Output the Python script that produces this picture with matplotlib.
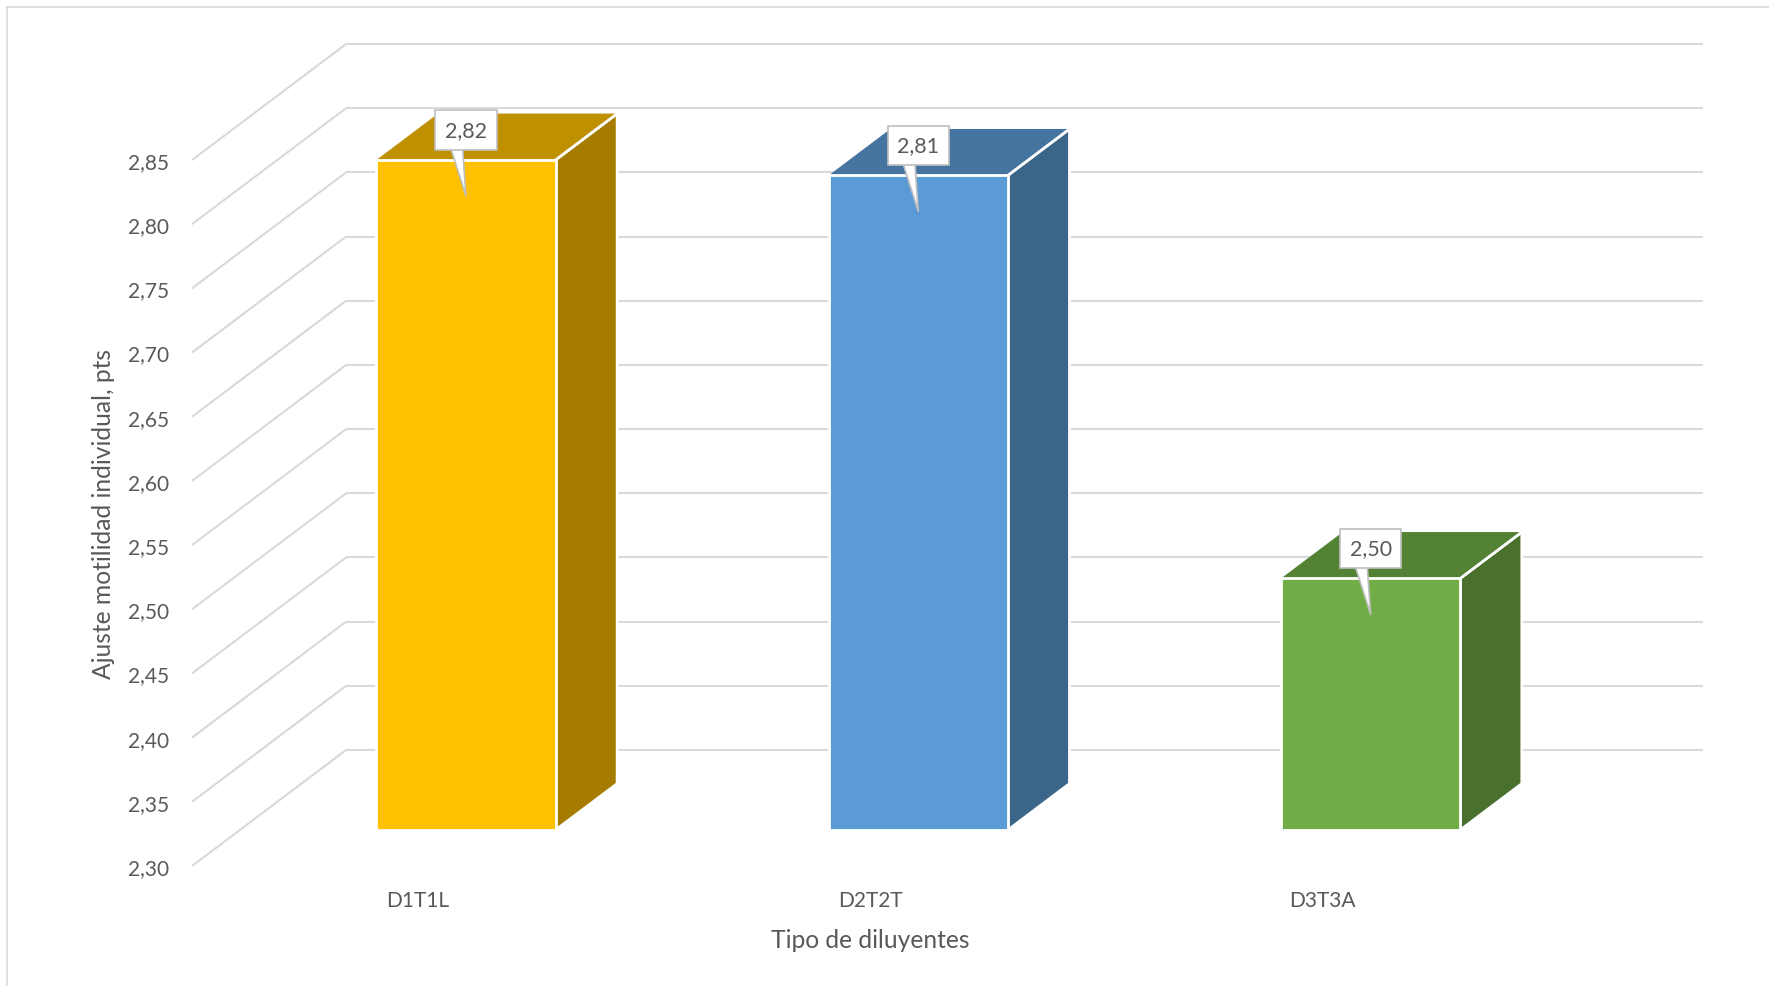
import numpy as np
import matplotlib
matplotlib.use("Agg")
import matplotlib.pyplot as plt
from matplotlib.patches import Polygon, Rectangle
from matplotlib.lines import Line2D

# ---- data ----
categories = ["D1T1L", "D2T2T", "D3T3A"]
values = [2.822, 2.810, 2.496]
y_ticks = [2.30, 2.35, 2.40, 2.45, 2.50, 2.55, 2.60, 2.65, 2.70, 2.75, 2.80, 2.85]
x_title = "Tipo de diluyentes"
y_title = "Ajuste motilidad individual, pts"

front_colors = ["#FFC000", "#5B9BD5", "#70AD47"]
top_colors = ["#BF9000", "#44749F", "#548235"]
side_colors = ["#A67C00", "#3B6589", "#4A702E"]

plt.rcParams['font.family'] = ['Lato', 'DejaVu Sans']
TXT = "#595959"
GRID = "#D9D9D9"

W, H = 1769, 987
fig = plt.figure(figsize=(W / 100, H / 100), dpi=100)
fig.patch.set_facecolor("white")

# frame of chart area
fig.add_artist(Line2D([7 / W, 7 / W], [0, 1 - 8 / H], color=GRID, lw=1.2))
fig.add_artist(Line2D([7 / W, 1], [1 - 8 / H, 1 - 8 / H], color=GRID, lw=1.2))

ax = fig.add_axes([192 / W, 1 - 867 / H, (1549 - 192) / W, (867 - 161) / H])
ymin, ymax = 2.30, 2.85
ax.set_xlim(-0.5, 2.5)
ax.set_ylim(ymin, ymax)
for s in ax.spines.values():
    s.set_visible(False)
ax.set_facecolor("none")

# depth of the 3-D box (in data units)
DX = 154 / 452.0
DY = 116 / 1283.6
d0, d1 = 0.31, 0.71
bw = 0.396

# back wall gridlines and side wall lines
for t in y_ticks:
    ax.plot([-0.5 + DX, 2.5 + DX], [t + DY, t + DY], color=GRID, lw=1.5,
            clip_on=False, zorder=1, solid_capstyle='butt')
    ax.plot([-0.5, -0.5 + DX], [t, t + DY], color=GRID, lw=1.5,
            clip_on=False, zorder=1, solid_capstyle='butt')

# bars
for i, v in enumerate(values):
    xl = i - bw / 2 + d0 * DX
    xr = i + bw / 2 + d0 * DX
    yb = ymin + d0 * DY
    yt = v + d0 * DY
    ddx = (d1 - d0) * DX
    ddy = (d1 - d0) * DY
    side = Polygon([(xr, yb), (xr, yt), (xr + ddx, yt + ddy), (xr + ddx, yb + ddy)],
                   closed=True, fc=side_colors[i], ec="white", lw=2, clip_on=False,
                   zorder=3, joinstyle='miter')
    top = Polygon([(xl, yt), (xr, yt), (xr + ddx, yt + ddy), (xl + ddx, yt + ddy)],
                  closed=True, fc=top_colors[i], ec="none", lw=0, clip_on=False, zorder=3)
    front = Rectangle((xl, yb), xr - xl, yt - yb, fc=front_colors[i], ec="white",
                      lw=2, clip_on=False, zorder=4, joinstyle='miter')
    ax.add_patch(side)
    ax.add_patch(top)
    ax.add_patch(front)
    ax.plot([xr, xr + ddx], [yt, yt + ddy], color="white", lw=2, clip_on=False, zorder=5)

    lab = f"{v:.2f}".replace(".", ",")
    ax.annotate(lab, xy=(i + d0 * DX, v), xytext=(0, 47.5), textcoords="offset points",
                ha="center", va="center", fontsize=15.5, color=TXT, zorder=10,
                bbox=dict(boxstyle="square,pad=0.45", fc="white", ec="#BFBFBF", lw=1.2),
                arrowprops=dict(arrowstyle="wedge,tail_width=0.75", fc="white",
                                ec="#BFBFBF", lw=1.2, shrinkA=0, shrinkB=0,
                                patchA=None, relpos=(0.2, 0.5)),
                annotation_clip=False)

# axes ticks / labels
ax.set_yticks(y_ticks, labels=[f"{t:.2f}".replace(".", ",") for t in y_ticks])
ax.set_xticks(range(len(categories)), labels=categories)
ax.tick_params(axis="y", length=0, pad=16.5, labelsize=15, labelcolor=TXT)
ax.tick_params(axis="x", length=0, pad=17, labelsize=15, labelcolor=TXT)
ax.set_xlabel(x_title, fontsize=17.7, color=TXT, labelpad=13)
ax.set_ylabel(y_title, fontsize=17.7, color=TXT, labelpad=9)

fig.savefig("out.png", dpi=100, facecolor="white")
